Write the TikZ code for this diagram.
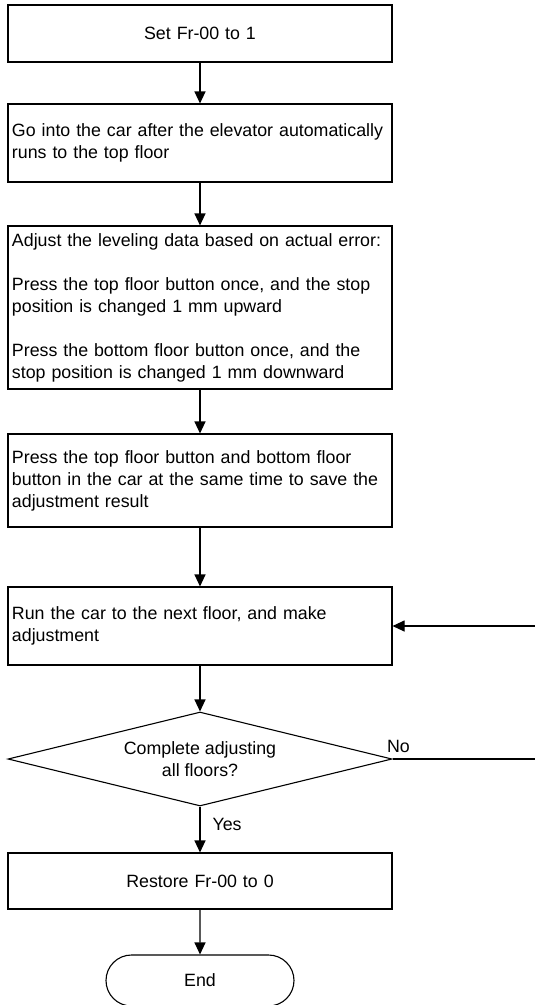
\documentclass[tikz,border=0pt]{standalone}
\usepackage{fontspec}
\setmainfont{Liberation Sans}
\usetikzlibrary{arrows.meta,shapes.geometric,shapes.misc}
\tikzset{stepbox/.style = {draw, rectangle, minimum width=384pt, text width=376pt, inner xsep=4pt, inner ysep=0pt, align=left}}
\tikzset{ask/.style = {draw, diamond, aspect=4.09, minimum width=384pt, minimum height=94pt, inner sep=0pt, align=center}}
\tikzset{term/.style = {draw, rounded rectangle, minimum width=188pt, minimum height=51pt, inner sep=0pt}}
\tikzset{flow/.style = {-{Triangle[length=12pt,width=11pt]}}}

\begin{document}
\begin{tikzpicture}[x=1pt, y=-1pt, line width=1.1pt,
    every node/.style={font=\fontsize{17.8}{22}\selectfont}]
      \useasboundingbox (0,0) rectangle (535,1005);
      \clip (0,0) rectangle (535,1005);
      \node [stepbox, align=center, minimum height=57pt] (set) at (200,33.5) {Set Fr-00 to 1};
      \node [stepbox, minimum height=78pt] (ride) at (200,143) {Go into the car after the elevator automatically\\runs to the top floor};
      \node [stepbox, minimum height=163pt] (adjust) at (200,307.5) {Adjust the leveling data based on actual error:\\[22pt]Press the top floor button once, and the stop\\position is changed 1 mm upward\\[22pt]Press the bottom floor button once, and the\\stop position is changed 1 mm downward};
      \node [stepbox, minimum height=93pt] (save) at (200,480.5) {Press the top floor button and bottom floor\\button in the car at the same time to save the\\adjustment result};
      \node [stepbox, minimum height=78pt] (run) at (200,626) {Run the car to the next floor, and make\\adjustment};
      \node [ask] (done) at (200,759) {Complete adjusting\\all floors?};
      \node [stepbox, align=center, minimum height=56pt] (restore) at (200,881) {Restore Fr-00 to 0};
      \node [term] (end) at (200,980.5) {End};
      \coordinate (back) at (548,759);

      \draw [flow] (set) -- (ride);
      \draw [flow] (ride) -- (adjust);
      \draw [flow] (adjust) -- (save);
      \draw [flow] (save) -- (run);
      \draw [flow] (run) -- (done);
      \draw [flow] (done) -- (restore) node [pos=0.4, anchor=west, inner sep=0pt, xshift=12pt] {Yes};
      \draw [flow] (restore) -- (end);
      \draw [flow] (done.east) -- (back) node [pos=0, anchor=base west, inner sep=0pt, xshift=-6pt, yshift=7pt] {No} |- (run.east);
    \end{tikzpicture}
\end{document}
